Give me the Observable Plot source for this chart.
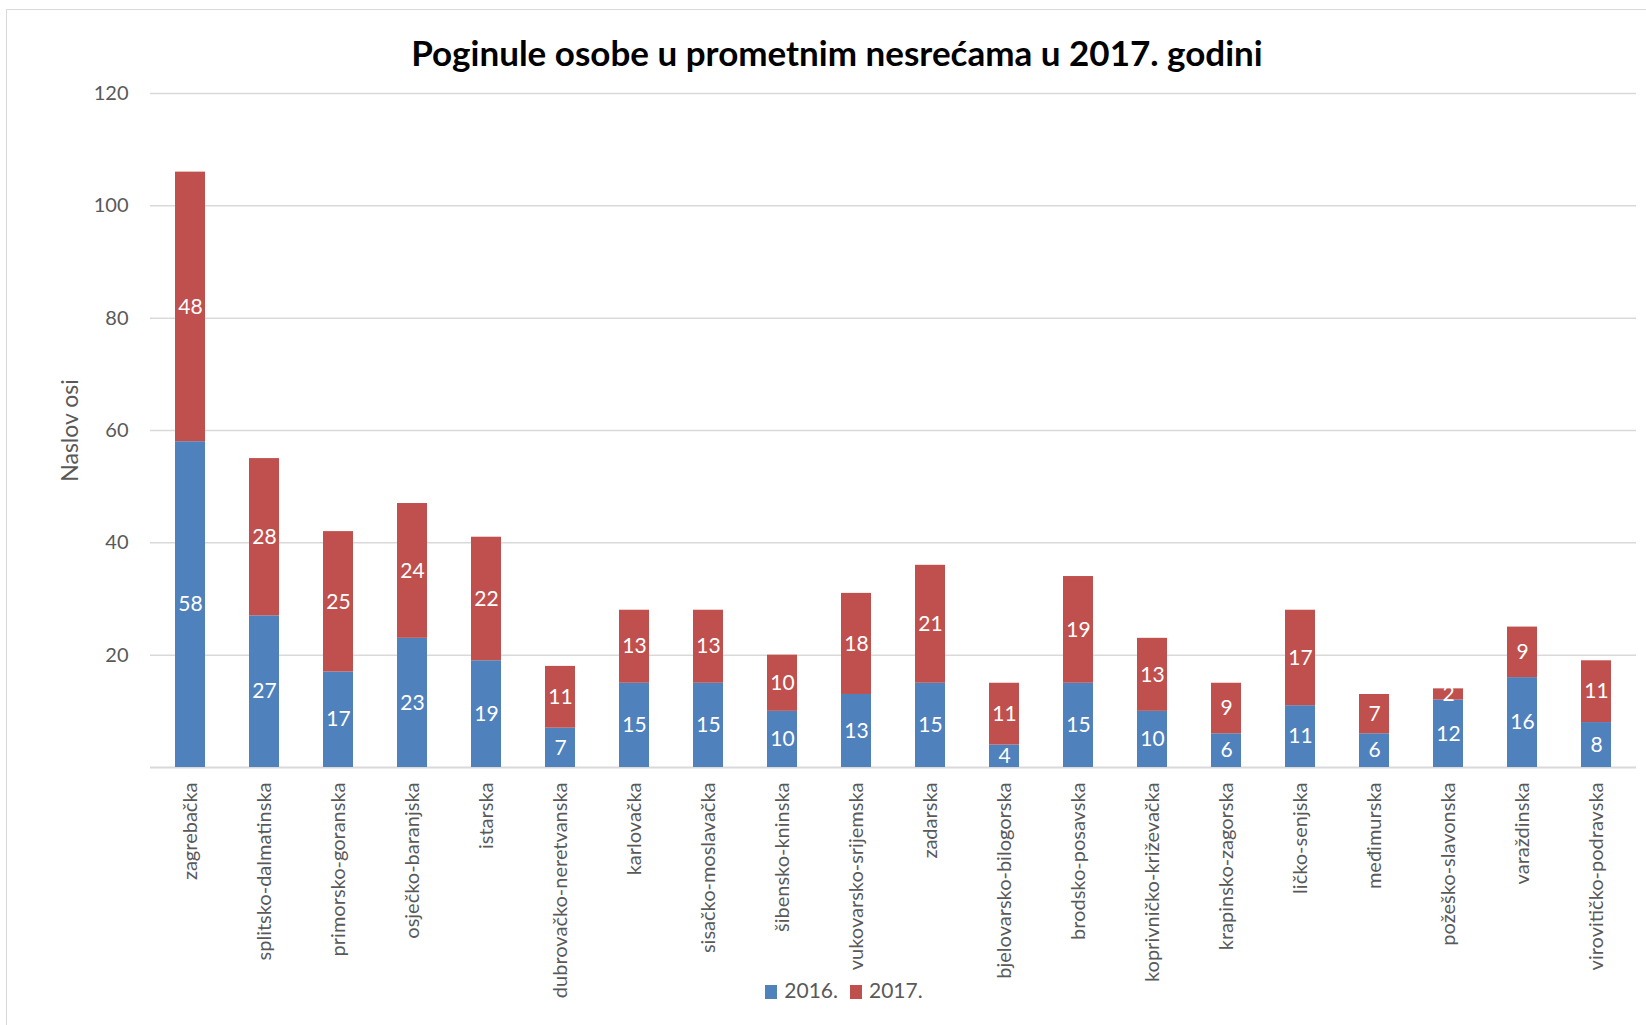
<!DOCTYPE html>
<html><head><meta charset="utf-8">
<script src="https://cdn.jsdelivr.net/npm/d3@7"></script>
<script src="https://cdn.jsdelivr.net/npm/@observablehq/plot@0.6"></script>
<style>
body{margin:0;width:1646px;height:1025px;overflow:hidden;background:#fff;font-family:Lato,sans-serif;position:relative}
#frame{position:absolute;left:6px;top:9px;width:1700px;height:1100px;border:1.5px solid #d9d9d9;box-sizing:border-box}
#title{position:absolute;left:0;top:30px;width:1674px;text-align:center;font-family:Lato,sans-serif;font-weight:bold;font-size:35px;color:#000;line-height:44px}
#chart{position:absolute;left:0;top:75px}
#legend{position:absolute;left:0;top:977px;width:1688px;text-align:center;font-family:Lato,sans-serif;font-size:21px;color:#595959;line-height:26px;z-index:2}
#legend span.item{display:inline-block;margin:0 6px}
#legend span.sw{display:inline-block;width:12px;height:14px;margin-right:7px;vertical-align:-1px}
</style></head>
<body>
<div id="frame"></div>
<div id="title">Poginule osobe u prometnim nesrećama u 2017. godini</div>
<div id="chart"></div>
<div id="legend"></div>
<script>
const regions = ["zagrebačka","splitsko-dalmatinska","primorsko-goranska","osječko-baranjska","istarska","dubrovačko-neretvanska","karlovačka","sisačko-moslavačka","šibensko-kninska","vukovarsko-srijemska","zadarska","bjelovarsko-bilogorska","brodsko-posavska","koprivničko-križevačka","krapinsko-zagorska","ličko-senjska","međimurska","požeško-slavonska","varaždinska","virovitičko-podravska"];
const v2016 = [58,27,17,23,19,7,15,15,10,13,15,4,15,10,6,11,6,12,16,8];
const v2017 = [48,28,25,24,22,11,13,13,10,18,21,11,19,13,9,17,7,2,9,11];
const years = ["2016.","2017."];
const colors = ["#4F81BD","#C0504D"];
const yTicks = [20,40,60,80,100,120];
const yLabel = "Naslov osi";

const data = [];
regions.forEach((r,i)=>{
  data.push({region:r, year:years[0], value:v2016[i]});
  data.push({region:r, year:years[1], value:v2017[i]});
});

const chart = Plot.plot({
  width: 1646,
  height: 950,
  marginLeft: 150,
  marginRight: 10,
  marginTop: 18,
  marginBottom: 258,
  style: {fontFamily: "Lato, sans-serif", background: "transparent"},
  x: {domain: regions, paddingInner: 0.6, paddingOuter: 0.28, label: null},
  y: {domain: [0,120], label: null},
  color: {domain: years, range: colors},
  marks: [
    Plot.gridY(yTicks, {stroke: "#d9d9d9", strokeOpacity: 1, strokeWidth: 1.5}),
    Plot.ruleY([0], {stroke: "#d9d9d9", strokeWidth: 2}),
    Plot.barY(data, {x: "region", y: "value", fill: "year", z: "year"}),
    Plot.text(data, Plot.stackY({x: "region", y: "value", z: "year", text: d => String(d.value), fill: "white", fontSize: 21})),
    Plot.axisY(yTicks, {tickSize: 0, tickPadding: 22, fontSize: 20, fill: "#595959", label: null}),
    Plot.axisX({tickSize: 0, tickPadding: 15, tickRotate: -90, fontSize: 20, fill: "#595959", label: null}),
    Plot.text([yLabel], {frameAnchor: "left", textAnchor: "middle", dx: -80, rotate: -90, fontSize: 23, fill: "#595959", text: d => d})
  ]
});
document.getElementById("chart").appendChild(chart);

const leg = document.getElementById("legend");
years.forEach((y,i)=>{
  const it = document.createElement("span");
  it.className = "item";
  const sw = document.createElement("span");
  sw.className = "sw";
  sw.style.background = colors[i];
  it.appendChild(sw);
  it.appendChild(document.createTextNode(y));
  leg.appendChild(it);
});
</script>
</body></html>
